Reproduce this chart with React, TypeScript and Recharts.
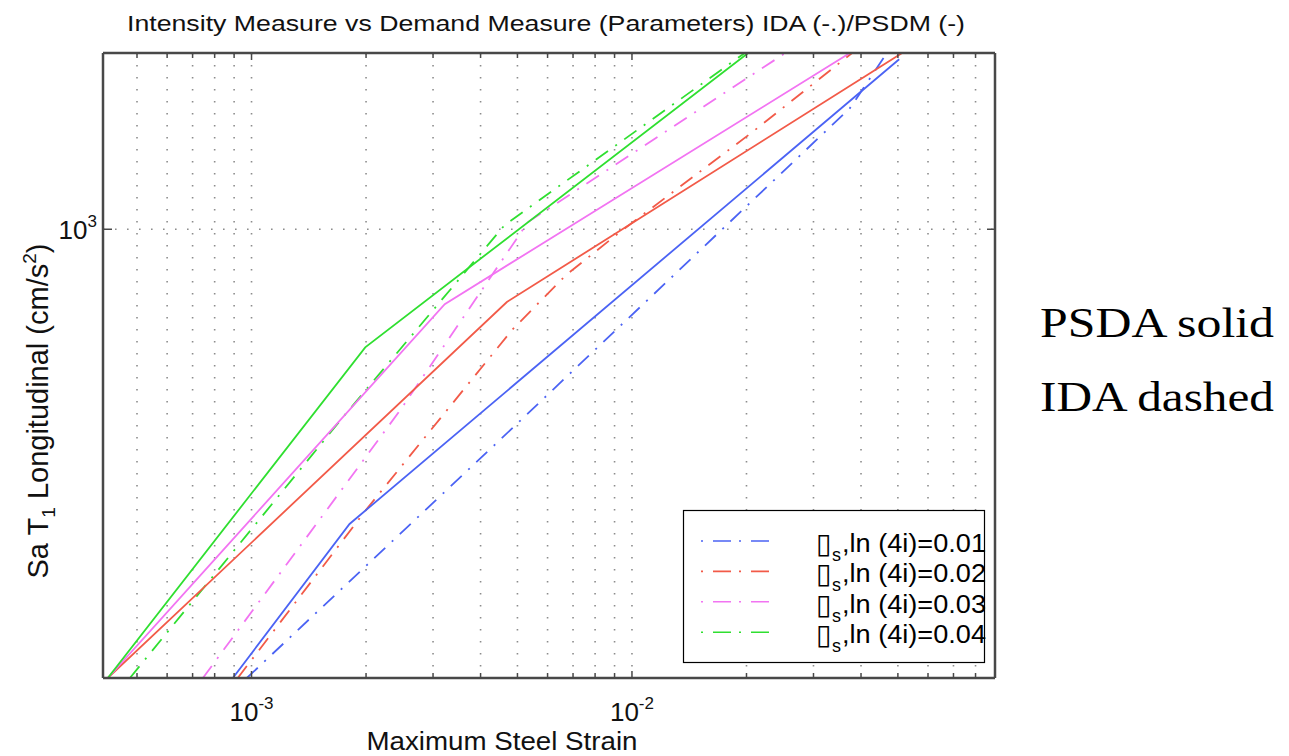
import React from "react";
import {
  LineChart,
  Line,
  XAxis,
  YAxis,
  CartesianGrid,
  Legend
} from "recharts";

// axis limits (log-log)
const STRAIN_MIN = 4.07e-4;
const STRAIN_MAX = 0.09;
const SA_MIN = 190;
const SA_MAX = 1920;

const strainTicks = [
  5e-4, 6e-4, 7e-4, 8e-4, 9e-4,
  1e-3, 2e-3, 3e-3, 4e-3, 5e-3, 6e-3, 7e-3, 8e-3, 9e-3,
  1e-2, 2e-2, 3e-2, 4e-2, 5e-2, 6e-2, 7e-2, 8e-2
];
const strainLabelTicks = [1e-3, 1e-2];
const saTicks = [1000];

const levels = ["0.01", "0.02", "0.03", "0.04"];
const colors = ["#4b63f4", "#f25a48", "#f274f2", "#2fdf30"];

// PSDM (solid)
const psdmStrain001 = [8.93e-4, 1.81e-3, 0.0504];
const psdmSa001 = [190, 336, 1876];
const psdmStrain002 = [4.19e-4, 4.69e-3, 0.0513];
const psdmSa002 = [190, 764, 1920];
const psdmStrain003 = [4.19e-4, 3.22e-3, 0.0374];
const psdmSa003 = [190, 758, 1920];
const psdmStrain004 = [4.19e-4, 1.99e-3, 0.0202];
const psdmSa004 = [190, 646, 1920];

// IDA (dash-dot)
const idaStrain001 = [9.72e-4, 4.42e-3, 0.0374, 0.0468];
const idaSa001 = [190, 454, 1565, 1920];
const idaStrain002 = [9.2e-4, 2.0e-3, 4.84e-3, 6.71e-3, 9.3e-3, 0.0207, 0.0379];
const idaSa002 = [190, 354, 689, 844, 990, 1432, 1920];
const idaStrain003 = [7.45e-4, 2.46e-3, 5.33e-3, 0.0253];
const idaSa003 = [190, 512, 1027, 1920];
const idaStrain004 = [4.79e-4, 1.74e-3, 4.63e-3, 0.0198];
const idaSa004 = [190, 499, 1016, 1920];

const toPoints = (xs: number[], ys: number[]) =>
  xs.map((strain, i) => ({ strain, sa: ys[i] }));

const psdm = [
  toPoints(psdmStrain001, psdmSa001),
  toPoints(psdmStrain002, psdmSa002),
  toPoints(psdmStrain003, psdmSa003),
  toPoints(psdmStrain004, psdmSa004)
];
const ida = [
  toPoints(idaStrain001, idaSa001),
  toPoints(idaStrain002, idaSa002),
  toPoints(idaStrain003, idaSa003),
  toPoints(idaStrain004, idaSa004)
];

const W = 1289;
const H = 756;
const PLOT_LEFT = 103;
const PLOT_TOP = 53;
const PLOT_RIGHT = 995;
const PLOT_BOTTOM = 678;
const AX = 1; // reserved axis size

const SANS = "'Liberation Sans', Arial, Helvetica, sans-serif";
const SERIF = "'Liberation Serif', 'Times New Roman', serif";
const AXIS = "#484848";
const DASH_DOT = "15 9 2 9";

const labelStyle = { fontSize: 26, fontFamily: SANS };
const supStyle = { fontSize: 17 };

const BottomTick = ({ x, payload }: any) => {
  const major = strainLabelTicks.includes(payload.value);
  return (
    <g>
      <line x1={x} x2={x} y1={PLOT_BOTTOM} y2={PLOT_BOTTOM - (major ? 7 : 5)} stroke={AXIS} strokeWidth={1.5} />
      {major && (
        <text x={x} y={721} textAnchor="middle" fill="#111" style={labelStyle}>
          10
          <tspan dy={-12} style={supStyle}>{Math.round(Math.log10(payload.value))}</tspan>
        </text>
      )}
    </g>
  );
};

const TopTick = ({ x, payload }: any) => {
  const major = strainLabelTicks.includes(payload.value);
  return <line x1={x} x2={x} y1={PLOT_TOP} y2={PLOT_TOP + (major ? 7 : 5)} stroke={AXIS} strokeWidth={1.5} />;
};

const LeftTick = ({ y, payload }: any) => (
  <g>
    <line x1={PLOT_LEFT} x2={PLOT_LEFT + 9} y1={y} y2={y} stroke={AXIS} strokeWidth={1.5} />
    <text x={97} y={y + 10} textAnchor="end" fill="#111" style={labelStyle}>
      10
      <tspan dy={-12} style={supStyle}>{Math.round(Math.log10(payload.value))}</tspan>
    </text>
  </g>
);

const RightTick = ({ y }: any) => (
  <line x1={PLOT_RIGHT} x2={PLOT_RIGHT - 8} y1={y} y2={y} stroke={AXIS} strokeWidth={1.5} />
);

function IdaLegend() {
  return (
    <svg width={304} height={154} style={{ display: "block", overflow: "visible" }}>
      <rect x={0.5} y={0.5} width={301} height={152} fill="#fff" stroke="#000" strokeWidth={1.2} />
      {levels.map((lv, i) => {
        const cy = 31 + i * 30.4;
        return (
          <g key={lv} fill="#000">
            <line x1={18} x2={87} y1={cy} y2={cy} stroke={colors[i]} strokeWidth={1.6} strokeDasharray="2 10 18 8" />
            <text y={cy + 11} style={{ fontSize: 25, fontFamily: SANS }}>
              <tspan x={133} dy={1} style={{ fontSize: 28, fontFamily: "'DejaVu Sans', sans-serif" }}>▯</tspan>
              <tspan x={149} dy={8} style={{ fontSize: 18 }}>s</tspan>
              <tspan x={159} dy={-9} textLength={144} lengthAdjust="spacingAndGlyphs">{`,ln (4i)=${lv}`}</tspan>
            </text>
          </g>
        );
      })}
    </svg>
  );
}

export default function App() {
  return (
    <div style={{ position: "absolute", left: 0, top: 0, width: W, height: H, background: "#fff" }}>
      <LineChart
        width={W}
        height={H}
        margin={{
          top: PLOT_TOP - AX,
          right: W - PLOT_RIGHT - AX,
          bottom: H - PLOT_BOTTOM - AX,
          left: PLOT_LEFT - AX
        }}
      >
        <CartesianGrid stroke="#8c8c8c" strokeWidth={1.6} strokeDasharray="1.6 10.4" />
        <XAxis
          dataKey="strain"
          type="number"
          scale="log"
          domain={[STRAIN_MIN, STRAIN_MAX]}
          allowDataOverflow
          ticks={strainTicks}
          interval={0}
          height={AX}
          tickLine={false}
          axisLine={{ stroke: AXIS, strokeWidth: 2.5 }}
          tick={<BottomTick />}
        />
        <XAxis
          xAxisId="top"
          orientation="top"
          dataKey="strain"
          type="number"
          scale="log"
          domain={[STRAIN_MIN, STRAIN_MAX]}
          allowDataOverflow
          ticks={strainTicks}
          interval={0}
          height={AX}
          tickLine={false}
          axisLine={{ stroke: AXIS, strokeWidth: 2.5 }}
          tick={<TopTick />}
        />
        <YAxis
          type="number"
          scale="log"
          domain={[SA_MIN, SA_MAX]}
          allowDataOverflow
          ticks={saTicks}
          interval={0}
          width={AX}
          tickLine={false}
          axisLine={{ stroke: AXIS, strokeWidth: 2.5 }}
          tick={<LeftTick />}
        />
        <YAxis
          yAxisId="right"
          orientation="right"
          type="number"
          scale="log"
          domain={[SA_MIN, SA_MAX]}
          allowDataOverflow
          ticks={saTicks}
          interval={0}
          width={AX}
          tickLine={false}
          axisLine={{ stroke: AXIS, strokeWidth: 2.5 }}
          tick={<RightTick />}
        />
        {ida.map((pts, i) => (
          <Line
            key={`ida-${i}`}
            data={pts}
            dataKey="sa"
            name={`IDA ${levels[i]}`}
            type="linear"
            stroke={colors[i]}
            strokeWidth={1.8}
            strokeDasharray={DASH_DOT}
            dot={false}
            activeDot={false}
            isAnimationActive={false}
          />
        ))}
        {psdm.map((pts, i) => (
          <Line
            key={`psdm-${i}`}
            data={pts}
            dataKey="sa"
            name={`PSDM ${levels[i]}`}
            legendType="none"
            type="linear"
            stroke={colors[i]}
            strokeWidth={1.8}
            dot={false}
            activeDot={false}
            isAnimationActive={false}
          />
        ))}
        <Legend
          layout="vertical"
          align="center"
          verticalAlign="middle"
          wrapperStyle={{ position: "absolute", left: 683, top: 510, width: 304, height: 154 }}
          content={() => <IdaLegend />}
        />
      </LineChart>

      <svg
        width={W}
        height={H}
        style={{ position: "absolute", left: 0, top: 0, pointerEvents: "none" }}
      >
        <text x={546} y={31} textAnchor="middle" fontSize={22} fontFamily={SANS} fill="#111" textLength={838} lengthAdjust="spacingAndGlyphs">
          Intensity Measure vs Demand Measure (Parameters) IDA (-.)/PSDM (-)
        </text>
        <text x={502} y={750} textAnchor="middle" fontSize={25} fontFamily={SANS} fill="#111" textLength={271} lengthAdjust="spacingAndGlyphs">
          Maximum Steel Strain
        </text>
        <text transform="translate(48,411) rotate(-90)" textAnchor="middle" fontSize={29} fontFamily={SANS} fill="#111">
          Sa T<tspan dy={7} fontSize={19}>1</tspan>
          <tspan dy={-7}> Longitudinal (cm/s</tspan>
          <tspan dy={-12} fontSize={19}>2</tspan>
          <tspan dy={12}>)</tspan>
        </text>
        <text x={1040} y={337} fontSize={42} fontFamily={SERIF} fill="#000" textLength={234} lengthAdjust="spacingAndGlyphs">
          PSDA solid
        </text>
        <text x={1040} y={411} fontSize={42} fontFamily={SERIF} fill="#000" textLength={234} lengthAdjust="spacingAndGlyphs">
          IDA dashed
        </text>
      </svg>
    </div>
  );
}
